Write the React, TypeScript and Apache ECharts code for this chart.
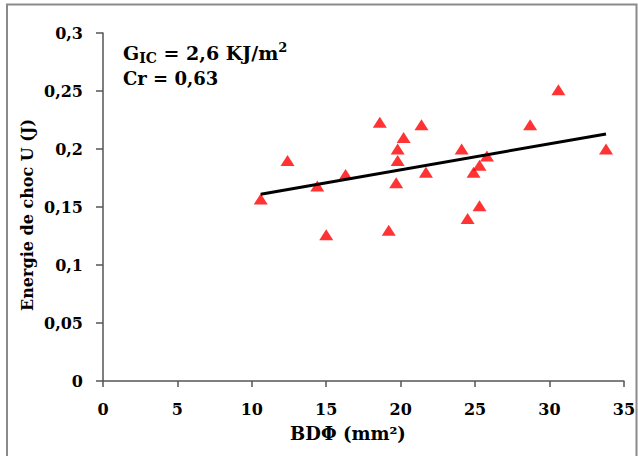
import React, { useEffect, useRef } from 'react';
import * as echarts from 'echarts';

// BDΦ (mm²) and impact energy U (J)
const bdPhi = [10.6, 12.4, 14.4, 16.3, 15.0, 18.6, 19.2, 19.8, 19.8, 19.7, 20.2, 21.4, 21.7, 24.1, 25.8, 25.3, 24.9, 25.3, 24.5, 28.7, 30.6, 33.8];
const energy = [0.157, 0.19, 0.168, 0.178, 0.126, 0.223, 0.13, 0.2, 0.19, 0.171, 0.21, 0.221, 0.18, 0.2, 0.194, 0.186, 0.18, 0.151, 0.14, 0.221, 0.251, 0.2];

// Trend line end points
const trendX = [10.6, 33.8];
const trendY = [0.161, 0.213];

const xTickLabels = ['0', '5', '10', '15', '20', '25', '30', '35'];
const yTickLabels = ['0', '0,05', '0,1', '0,15', '0,2', '0,25', '0,3'];

export default function App() {
  const ref = useRef<HTMLDivElement>(null);
  useEffect(() => {
    const chart = echarts.init(ref.current!, null, { renderer: 'svg' });
    const font = 'DejaVu Serif';
    const axisColor = '#555';
    chart.setOption({
      animation: false,
      backgroundColor: '#fff',
      grid: { left: 103, right: 13, top: 33, bottom: 75 },
      xAxis: {
        type: 'value',
        min: 0,
        max: 35,
        interval: 5,
        splitLine: { show: false },
        axisLine: { onZero: false, lineStyle: { color: axisColor, width: 1.5 } },
        axisTick: { length: 6, lineStyle: { color: axisColor, width: 1.5 } },
        axisLabel: {
          margin: 20,
          color: '#000',
          fontFamily: font,
          fontWeight: 'bold',
          fontSize: 16,
          formatter: (_v: number, i: number) => xTickLabels[i] ?? '',
        },
      },
      yAxis: {
        type: 'value',
        min: 0,
        max: 0.3,
        interval: 0.05,
        splitLine: { show: false },
        axisLine: { show: true, onZero: false, lineStyle: { color: axisColor, width: 1.5 } },
        axisTick: { show: true, length: 7, lineStyle: { color: axisColor, width: 1.5 } },
        axisLabel: {
          margin: 20,
          color: '#000',
          fontFamily: font,
          fontWeight: 'bold',
          fontSize: 16,
          formatter: (_v: number, i: number) => yTickLabels[i] ?? '',
        },
      },
      series: [
        {
          type: 'scatter',
          symbol: 'triangle',
          symbolSize: [14, 11],
          itemStyle: { color: '#ff0000' },
          data: bdPhi.map((x, i) => [x, energy[i]]),
          z: 2,
        },
        {
          type: 'line',
          symbol: 'none',
          lineStyle: { color: '#000', width: 3 },
          data: trendX.map((x, i) => [x, trendY[i]]),
          z: 3,
        },
      ],
      graphic: [
        {
          type: 'polyline',
          shape: { points: [[7, 456], [7, 4.5], [636.5, 4.5], [636.5, 456]] },
          style: { stroke: '#8a8a8a', lineWidth: 2, fill: 'none' },
          silent: true,
        },
        {
          type: 'text',
          x: 27,
          y: 215,
          rotation: Math.PI / 2,
          style: {
            text: 'Energie de choc U (J)',
            fontFamily: font,
            fontWeight: 'bold',
            fontSize: 16,
            fill: '#000',
            align: 'center',
            verticalAlign: 'middle',
            textAlign: 'center',
            textVerticalAlign: 'middle',
          },
        },
        {
          type: 'text',
          x: 348,
          y: 433,
          style: {
            text: 'BDΦ (mm²)',
            fontFamily: font,
            fontWeight: 'bold',
            fontSize: 18,
            fill: '#000',
            align: 'center',
            verticalAlign: 'middle',
            textAlign: 'center',
            textVerticalAlign: 'middle',
          },
        },
        {
          type: 'text',
          x: 123,
          y: 53,
          style: {
            text: '{m|G}{sub|IC}{m| = 2,6 KJ/m}{sup|2}',
            fill: '#000',
            align: 'left',
            verticalAlign: 'middle',
            textAlign: 'left',
            textVerticalAlign: 'middle',
            rich: {
              m: { fontFamily: font, fontWeight: 'bold', fontSize: 19, lineHeight: 24, fill: '#000', color: '#000' },
              sub: { fontFamily: font, fontWeight: 'bold', fontSize: 14, lineHeight: 13, verticalAlign: 'bottom', fill: '#000', color: '#000' },
              sup: { fontFamily: font, fontWeight: 'bold', fontSize: 13, lineHeight: 12, verticalAlign: 'top', fill: '#000', color: '#000' },
            },
          },
        },
        {
          type: 'text',
          x: 123,
          y: 78,
          style: {
            text: 'Cr = 0,63',
            fontFamily: font,
            fontWeight: 'bold',
            fontSize: 18,
            fill: '#000',
            align: 'left',
            verticalAlign: 'middle',
            textAlign: 'left',
            textVerticalAlign: 'middle',
          },
        },
      ],
    });
    return () => chart.dispose();
  }, []);
  return (
    <div
      ref={ref}
      style={{ position: 'fixed', left: 0, top: 0, width: 638, height: 456, background: '#fff' }}
    />
  );
}
